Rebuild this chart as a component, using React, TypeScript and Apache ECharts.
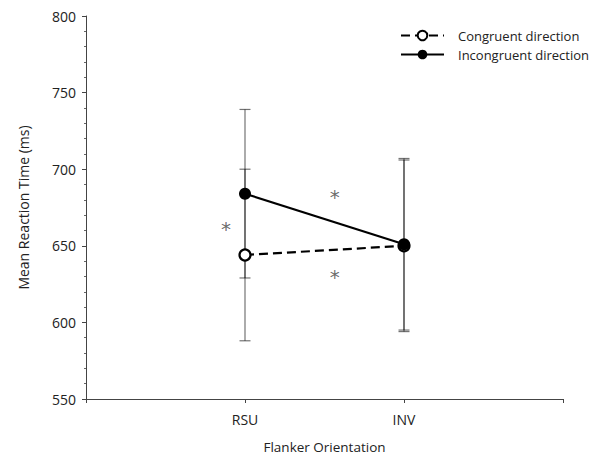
import React, { useEffect, useRef } from "react";
import * as echarts from "echarts";

const categories = ["", "RSU", "INV", ""];
const congruentMeans = [644, 650];
const congruentErr = [56, 56];
const incongruentMeans = [684, 651];
const incongruentErr = [55, 56];
const yTicks = [550, 600, 650, 700, 750, 800];
const asterisks: [number, number][] = [
  [0.88, 664.5],
  [1.565, 685],
  [1.565, 633],
];

const FONT = "'Open Sans', 'Noto Sans', sans-serif";

export default function App() {
  const ref = useRef<HTMLDivElement>(null);
  useEffect(() => {
    if (!ref.current) return;
    const chart = echarts.init(ref.current, undefined, { renderer: "svg" });
    const errData = (means: number[], errs: number[]) =>
      means.map((m, i) => [i + 1, m - errs[i], m + errs[i]]);
    const renderErr = (params: any, api: any) => {
      const x = api.value(0);
      const lo = api.coord([x, api.value(1)]);
      const hi = api.coord([x, api.value(2)]);
      const w = 5.5;
      const style = { stroke: "rgba(0,0,0,0.55)", lineWidth: 1.2 };
      return {
        type: "group",
        children: [
          { type: "line", shape: { x1: lo[0], y1: lo[1], x2: hi[0], y2: hi[1] }, style },
          { type: "line", shape: { x1: lo[0] - w, y1: lo[1], x2: lo[0] + w, y2: lo[1] }, style },
          { type: "line", shape: { x1: hi[0] - w, y1: hi[1], x2: hi[0] + w, y2: hi[1] }, style },
        ],
      };
    };
    chart.setOption({
      animation: false,
      backgroundColor: "#fff",
      textStyle: { fontFamily: FONT },
      grid: { left: 74, right: 32, top: 8, bottom: 48 },
      legend: {
        orient: "vertical",
        left: 387,
        top: 16,
        itemWidth: 43,
        itemHeight: 12,
        itemGap: 6,
        textStyle: { fontSize: 13, color: "#222", fontFamily: FONT, padding: [0, 0, 0, 9] },
        data: ["Congruent direction", "Incongruent direction"],
      },
      xAxis: {
        type: "value",
        min: 0,
        max: 3,
        interval: 1,
        name: "Flanker Orientation",
        nameLocation: "middle",
        nameGap: 41,
        nameTextStyle: { fontSize: 13.5, color: "#222" },
        axisLine: { lineStyle: { color: "#444", width: 1 } },
        axisTick: { length: 4, lineStyle: { color: "#444" } },
        axisLabel: {
          fontSize: 14,
          color: "#222",
          margin: 13,
          formatter: (v: number) => categories[v] ?? "",
        },
        splitLine: { show: false },
      },
      yAxis: {
        type: "value",
        min: yTicks[0],
        max: yTicks[yTicks.length - 1],
        interval: 50,
        name: "Mean Reaction Time (ms)",
        nameLocation: "middle",
        nameGap: 56,
        nameTextStyle: { fontSize: 14, color: "#222" },
        axisLine: { show: true, lineStyle: { color: "#444", width: 1 } },
        axisTick: { length: 4, lineStyle: { color: "#444" } },
        minorTick: { show: true, splitNumber: 5, length: 2, lineStyle: { color: "#666" } },
        axisLabel: { fontSize: 14, color: "#222", margin: 10 },
        splitLine: { show: false },
      },
      series: [
        {
          type: "custom",
          name: "errC",
          renderItem: renderErr,
          data: errData(congruentMeans, congruentErr),
          z: 1,
          silent: true,
        },
        {
          type: "custom",
          name: "errI",
          renderItem: renderErr,
          data: errData(incongruentMeans, incongruentErr),
          z: 1,
          silent: true,
        },
        {
          type: "line",
          name: "Congruent direction",
          data: congruentMeans.map((v, i) => [i + 1, v]),
          symbol: "circle",
          symbolSize: 11,
          lineStyle: { color: "#000", width: 2.2, type: [9, 5] },
          itemStyle: { color: "#fff", borderColor: "#000", borderWidth: 2.2 },
          z: 3,
        },
        {
          type: "line",
          name: "Incongruent direction",
          data: incongruentMeans.map((v, i) => [i + 1, v]),
          symbol: "circle",
          symbolSize: 12,
          lineStyle: { color: "#000", width: 2.2 },
          itemStyle: { color: "#000", borderColor: "#000", borderWidth: 0 },
          z: 4,
        },
        {
          type: "scatter",
          name: "sig",
          data: asterisks,
          symbolSize: 0,
          silent: true,
          label: {
            show: true,
            position: "inside",
            formatter: "*",
            fontSize: 20,
            color: "#444",
            offset: [0, 5],
            fontFamily: "'DejaVu Sans', sans-serif",
          },
        },
      ],
    });
    return () => chart.dispose();
  }, []);
  return <div ref={ref} style={{ width: 587, height: 451 }} />;
}
